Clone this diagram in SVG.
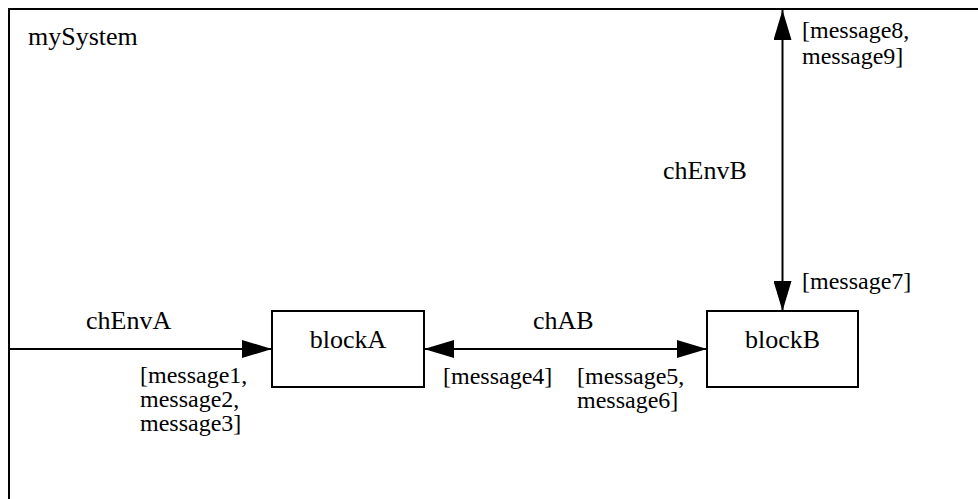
<svg xmlns="http://www.w3.org/2000/svg" width="978" height="499" viewBox="0 0 978 499">
<defs>
<style>
text{font-family:"Liberation Serif",Tinos,"Times New Roman",Times,"DejaVu Serif",serif;font-size:24px;fill:#000}
.nm{font-size:26px}
.ln{stroke:#000;stroke-width:2;fill:none}
.blk{stroke:#000;stroke-width:2;fill:#fff}
</style>
<marker id="ah" viewBox="0 0 30 18" refX="30" refY="9" markerWidth="30" markerHeight="18" markerUnits="userSpaceOnUse" orient="auto-start-reverse">
<path d="M0,0 L30,9 L0,18 Z" fill="#000"/>
</marker>
</defs>
<rect width="978" height="499" fill="#fff"/>
<g id="mySystem">
<path class="ln" d="M9,499 L9,9 L978,9"/>
<text class="nm" x="28" y="45">mySystem</text>
</g>
<g id="blockA">
<rect class="blk" x="272" y="311" width="152" height="76"/>
<text class="nm" x="348" y="348" text-anchor="middle">blockA</text>
</g>
<g id="blockB">
<rect class="blk" x="707" y="311" width="151" height="76"/>
<text class="nm" x="782.5" y="348" text-anchor="middle">blockB</text>
</g>
<g id="connectors">
<line class="ln" x1="9" y1="349" x2="272" y2="349" marker-end="url(#ah)"/>
<line class="ln" x1="424" y1="349" x2="707" y2="349" marker-start="url(#ah)" marker-end="url(#ah)"/>
<line class="ln" x1="782.5" y1="10" x2="782.5" y2="311" marker-start="url(#ah)" marker-end="url(#ah)"/>
<text class="nm" x="86" y="329">chEnvA</text>
<text x="140" y="383">[message1,</text>
<text x="140" y="407">message2,</text>
<text x="140" y="431">message3]</text>
<text class="nm" x="533" y="329">chAB</text>
<text x="443" y="384">[message4]</text>
<text x="577" y="384">[message5,</text>
<text x="577" y="408">message6]</text>
<text class="nm" x="663" y="179">chEnvB</text>
<text x="802" y="38">[message8,</text>
<text x="802" y="64">message9]</text>
<text x="802" y="289">[message7]</text>
</g>
</svg>
